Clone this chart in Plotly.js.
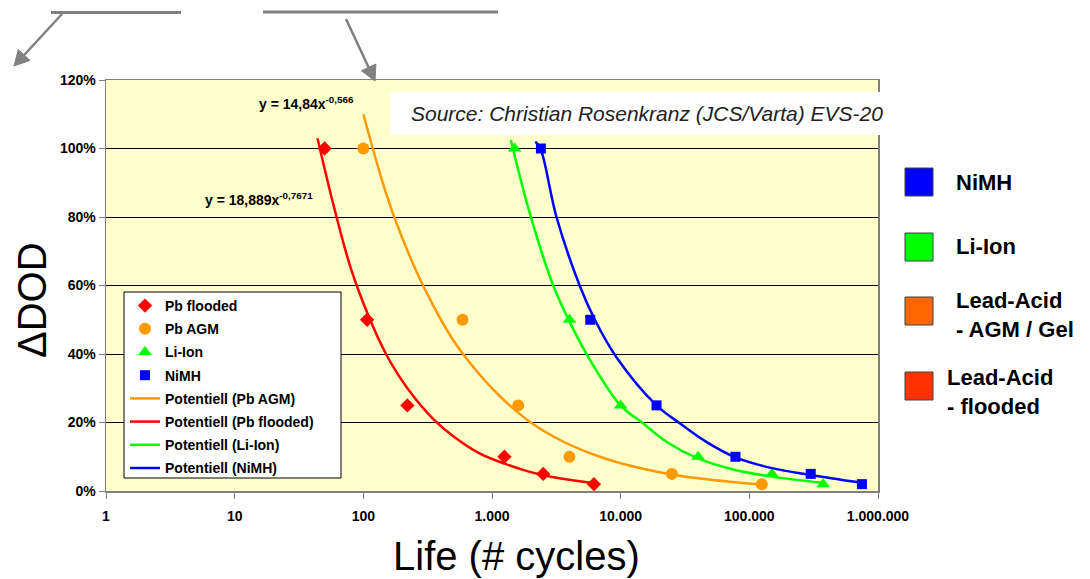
<!DOCTYPE html>
<html>
<head>
<meta charset="utf-8">
<script src="https://cdn.plot.ly/plotly-3.0.1.min.js"></script>
<style>html,body{margin:0;padding:0;background:#fff;}#chart{width:1090px;height:579px;}</style>
</head>
<body>
<div id="chart"></div>
<script>
// ---- measured data (Life in cycles, ΔDOD as fraction) ----
const dodLevels = [1.0, 0.5, 0.25, 0.10, 0.05, 0.02];
const pbFloodedCycles = [50, 107, 220, 1250, 2500, 6200];
const pbAgmCycles = [100, 590, 1600, 4000, 25000, 125000];
const liIonCycles = [1500, 4000, 10000, 40000, 150000, 375000];
const nimhCycles = [2400, 5800, 19000, 78000, 300000, 750000];

// trend lines ("Potentiell")
const trendPbAgmCycles = [100, 150, 200, 300, 500, 800, 1200, 2000, 3500, 6000, 10000, 20000, 40000, 70000, 125000];
const trendPbAgmDOD = [1.10, 0.87, 0.74, 0.59, 0.44, 0.34, 0.27, 0.20, 0.146, 0.108, 0.081, 0.055, 0.037, 0.027, 0.019];
const trendPbFloodedCycles = [44, 60, 80, 110, 150, 220, 350, 500, 800, 1250, 2000, 3000, 4500, 6200];
const trendPbFloodedDOD = [1.03, 0.82, 0.65, 0.51, 0.40, 0.30, 0.21, 0.16, 0.11, 0.08, 0.055, 0.04, 0.03, 0.023];
const trendLiIonCycles = [1400, 1970, 2990, 3940, 5430, 9970, 15000, 22700, 39800, 74800, 150000, 375000];
const trendLiIonDOD = [1.025, 0.81, 0.60, 0.50, 0.40, 0.25, 0.197, 0.144, 0.095, 0.063, 0.042, 0.024];
const trendNimhCycles = [2170, 2380, 3170, 4800, 6300, 9300, 19000, 29000, 46000, 78000, 153000, 300000, 750000];
const trendNimhDOD = [1.02, 1.0, 0.80, 0.60, 0.50, 0.39, 0.25, 0.197, 0.144, 0.098, 0.066, 0.047, 0.024];

const xTickVals = [1, 10, 100, 1000, 10000, 100000, 1000000];
const sideLegendLabels = ['NiMH', 'Li-Ion', 'Lead-Acid<br>- AGM / Gel', 'Lead-Acid<br>- flooded'];
const sideLegendColors = ['#0000FF', '#00FF00', '#FF6600', '#FF3300'];

// ---- layout geometry helpers (pixel -> paper) ----
const W = 1090, H = 579;
const M = {l: 106, r: 212, t: 80, b: 88};
const PW = W - M.l - M.r, PH = H - M.t - M.b;
const px = x => (x - M.l) / PW;
const py = y => (H - M.b - y) / PH;

const FONT = 'Liberation Sans, Arial, sans-serif';

const traces = [
  {name: 'Pb flooded', x: pbFloodedCycles, y: dodLevels, mode: 'markers', type: 'scatter',
   marker: {symbol: 'diamond', size: 11, color: '#FF0000'}},
  {name: 'Pb AGM', x: pbAgmCycles, y: dodLevels, mode: 'markers', type: 'scatter',
   marker: {symbol: 'circle', size: 12, color: '#FF9900'}},
  {name: 'Li-Ion', x: liIonCycles, y: dodLevels, mode: 'markers', type: 'scatter',
   marker: {symbol: 'triangle-up', size: 12, color: '#00FF00'}},
  {name: 'NiMH', x: nimhCycles, y: dodLevels, mode: 'markers', type: 'scatter',
   marker: {symbol: 'square', size: 10, color: '#0000FF'}},
  {name: 'Potentiell (Pb AGM)', x: trendPbAgmCycles, y: trendPbAgmDOD, mode: 'lines', type: 'scatter',
   line: {color: '#FF9900', width: 2.5, shape: 'spline'}},
  {name: 'Potentiell (Pb flooded)', x: trendPbFloodedCycles, y: trendPbFloodedDOD, mode: 'lines', type: 'scatter',
   line: {color: '#FF0000', width: 2.5, shape: 'spline'}},
  {name: 'Potentiell (Li-Ion)', x: trendLiIonCycles, y: trendLiIonDOD, mode: 'lines', type: 'scatter',
   line: {color: '#00FF00', width: 2.5, shape: 'spline'}},
  {name: 'Potentiell (NiMH)', x: trendNimhCycles, y: trendNimhDOD, mode: 'lines', type: 'scatter',
   line: {color: '#0000FF', width: 2.5, shape: 'spline'}}
];
traces.forEach((t, i) => { t.legendgroup = 'g' + i; });

// arrow helper (shapes only, pixel coords converted to paper)
function arrowShapes(tx0, ty0, tipX, tipY) {
  const dx = tipX - tx0, dy = tipY - ty0, len = Math.hypot(dx, dy);
  const ux = dx / len, uy = dy / len, L = 15, hw = 8;
  const bx = tipX - L * ux, by = tipY - L * uy;
  const p1 = [bx + hw * uy, by - hw * ux], p2 = [bx - hw * uy, by + hw * ux];
  return [
    {type: 'line', xref: 'paper', yref: 'paper', x0: px(tx0), y0: py(ty0), x1: px(bx), y1: py(by),
     line: {color: '#808080', width: 2.5}},
    {type: 'path', xref: 'paper', yref: 'paper',
     path: 'M ' + px(tipX) + ' ' + py(tipY) + ' L ' + px(p1[0]) + ' ' + py(p1[1]) + ' L ' + px(p2[0]) + ' ' + py(p2[1]) + ' Z',
     fillcolor: '#808080', line: {color: '#808080', width: 1}}
  ];
}

const shapes = [
  // white source box
  {type: 'rect', xref: 'paper', yref: 'paper', x0: px(390), x1: px(881), y0: py(135), y1: py(92),
   fillcolor: '#FFFFFF', line: {width: 0}, layer: 'above'},
  // legend frame
  {type: 'rect', xref: 'paper', yref: 'paper', x0: px(124), x1: px(341), y0: py(478), y1: py(292),
   fillcolor: '#FFFFFF', line: {color: '#000000', width: 1}, layer: 'above'},
  // grey underline strokes at top
  {type: 'line', xref: 'paper', yref: 'paper', x0: px(51), x1: px(181), y0: py(12.5), y1: py(12.5),
   line: {color: '#808080', width: 3}},
  {type: 'line', xref: 'paper', yref: 'paper', x0: px(263), x1: px(498), y0: py(12), y1: py(12),
   line: {color: '#808080', width: 3}}
].concat(arrowShapes(62, 14, 14, 66), arrowShapes(346, 19, 375, 81));

const sideY = [182, 247, 311, 386];
sideY.forEach((cy, i) => {
  shapes.push({type: 'rect', xref: 'paper', yref: 'paper', x0: px(905), x1: px(933), y0: py(cy + 14), y1: py(cy - 14),
    fillcolor: sideLegendColors[i], line: {color: '#404040', width: 1}});
});

const annotations = [
  {xref: 'paper', yref: 'paper', x: px(409), y: py(113), xanchor: 'left', yanchor: 'middle', showarrow: false,
   text: '<i>Source: Christian Rosenkranz (JCS/Varta) EVS-20</i>', font: {family: FONT, size: 21, color: '#222222'}},
  {xref: 'paper', yref: 'paper', x: px(257), y: py(103), xanchor: 'left', yanchor: 'middle', showarrow: false,
   text: '<b>y = 14,84x<sup>-0,566</sup></b>', font: {family: FONT, size: 14, color: '#000000'}},
  {xref: 'paper', yref: 'paper', x: px(203), y: py(199), xanchor: 'left', yanchor: 'middle', showarrow: false,
   text: '<b>y = 18,889x<sup>-0,7671</sup></b>', font: {family: FONT, size: 14, color: '#000000'}},
  // axis titles
  {xref: 'paper', yref: 'paper', x: px(516), y: py(556), xanchor: 'center', yanchor: 'middle', showarrow: false,
   text: 'Life (# cycles)', font: {family: FONT, size: 40, color: '#000000'}},
  {xref: 'paper', yref: 'paper', x: px(32), y: py(300), xanchor: 'center', yanchor: 'middle', showarrow: false,
   textangle: -90, text: 'ΔDOD', font: {family: FONT, size: 40, color: '#000000'}}
];
const sideTextX = [954, 954, 954, 945];
const sideTextY = [182, 247, 315, 392];
sideLegendLabels.forEach((lab, i) => {
  annotations.push({xref: 'paper', yref: 'paper', x: px(sideTextX[i]), y: py(sideTextY[i]),
    xanchor: 'left', yanchor: 'middle', align: 'left', showarrow: false,
    text: '<b>' + lab + '</b>', font: {family: FONT, size: 22, color: '#000000'}});
});

const layout = {
  width: W, height: H,
  margin: M,
  paper_bgcolor: '#FFFFFF',
  plot_bgcolor: '#FFFFCC',
  separators: ',.',
  showlegend: true,
  font: {family: FONT, color: '#000000'},
  xaxis: {
    type: 'log', range: [0, 6], tickvals: xTickVals, tickformat: ',',
    showgrid: false, zeroline: false,
    showline: true, linecolor: '#808080', linewidth: 1.5, mirror: true,
    ticks: 'outside', ticklen: 6, tickcolor: '#808080', ticklabelstandoff: 6,
    tickfont: {family: FONT, size: 14, weight: 'bold', color: '#000000'}
  },
  yaxis: {
    range: [0, 1.2], dtick: 0.2, tickformat: '.0%',
    showgrid: true, gridcolor: '#000000', gridwidth: 1, zeroline: false,
    showline: true, linecolor: '#808080', linewidth: 1.5, mirror: true,
    ticks: 'outside', ticklen: 6, tickcolor: '#808080',
    tickfont: {family: FONT, size: 14, weight: 'bold', color: '#000000'}
  },
  legend: {
    x: px(125), y: py(290), xanchor: 'left', yanchor: 'top',
    bgcolor: 'rgba(0,0,0,0)', borderwidth: 0,
    font: {family: FONT, size: 14, weight: 'bold', color: '#000000'},
    tracegroupgap: 2, traceorder: 'grouped'
  },
  shapes: shapes,
  annotations: annotations
};

Plotly.newPlot('chart', traces, layout, {displayModeBar: false, staticPlot: true});
</script>
</body>
</html>
